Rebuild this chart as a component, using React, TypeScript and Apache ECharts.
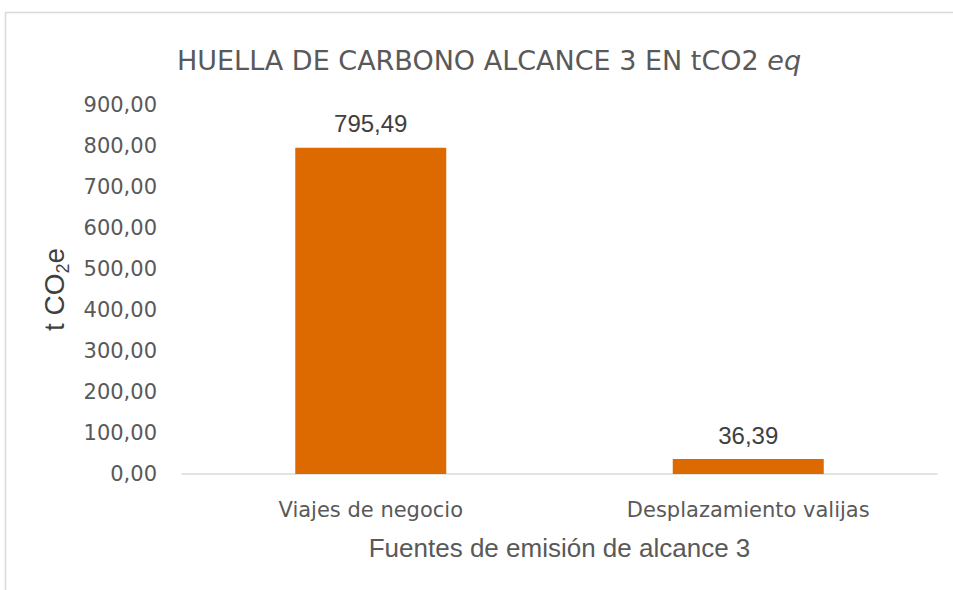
import React, { useEffect, useRef } from "react";
import * as echarts from "echarts";

const categories = ["Viajes de negocio", "Desplazamiento valijas"];
const values = [795.49, 36.39];
const yTicks = { min: 0, max: 900, interval: 100 };
const titleMain = "HUELLA DE CARBONO ALCANCE 3 EN tCO2 ";
const titleItalic = "eq";
const xAxisName = "Fuentes de emisión de alcance 3";

const fmt = (v: number) => v.toFixed(2).replace(".", ",");

export default function App() {
  const ref = useRef<HTMLDivElement>(null);
  useEffect(() => {
    if (!ref.current) return;
    const chart = echarts.init(ref.current, null, { renderer: "svg" });
    chart.setOption({
      animation: false,
      backgroundColor: "#ffffff",
      graphic: [
        {
          type: "rect",
          shape: { x: 5.5, y: 12.5, width: 960, height: 600 },
          style: { fill: "none", stroke: "#d9d9d9", lineWidth: 1.5 },
          silent: true,
        },
      ],
      title: {
        text: `{a|${titleMain}}{b|${titleItalic}}`,
        left: 484,
        top: 42,
        textAlign: "center",
        textStyle: {
          fontWeight: "normal",
          rich: {
            a: { fontFamily: "DejaVu Sans", fontSize: 27, fontWeight: "normal", color: "#595959" },
            b: { fontFamily: "DejaVu Sans", fontSize: 27, fontWeight: "normal", color: "#595959", fontStyle: "italic" },
          },
        },
      },
      grid: { left: 182, right: 16, top: 105, bottom: 116, containLabel: false },
      xAxis: {
        type: "category",
        data: categories,
        axisLine: { lineStyle: { color: "#d9d9d9", width: 1.5 } },
        axisTick: { show: false },
        axisLabel: {
          margin: 25,
          fontFamily: "DejaVu Sans",
          fontSize: 21,
          color: "#595959",
        },
        name: xAxisName,
        nameLocation: "middle",
        nameGap: 61,
        nameTextStyle: { fontFamily: "Liberation Sans", fontSize: 26, color: "#595959" },
      },
      yAxis: {
        type: "value",
        min: yTicks.min,
        max: yTicks.max,
        interval: yTicks.interval,
        splitLine: { show: false },
        axisLine: { show: false },
        axisTick: { show: false },
        axisLabel: {
          margin: 25,
          fontFamily: "DejaVu Sans",
          fontSize: 21,
          color: "#595959",
          formatter: (v: number) => fmt(v),
        },
        name: "{a|t CO}{s|2}{a|e}",
        nameLocation: "middle",
        nameRotate: 90,
        nameGap: 114,
        nameTextStyle: {
          rich: {
            a: { fontFamily: "Liberation Sans", fontSize: 28, color: "#404040", verticalAlign: "bottom", lineHeight: 32 },
            s: { fontFamily: "Liberation Sans", fontSize: 18, color: "#404040", verticalAlign: "bottom", lineHeight: 18, padding: [0, 0, -4, 0] },
          },
        },
      },
      series: [
        {
          type: "bar",
          data: values,
          barWidth: "40%",
          itemStyle: { color: "#dd6a00" },
          label: {
            show: true,
            position: "top",
            distance: 12,
            fontFamily: "Liberation Sans",
            fontSize: 24,
            color: "#404040",
            formatter: (p: any) => fmt(p.value),
          },
        },
      ],
    });
    return () => chart.dispose();
  }, []);
  return (
    <div
      ref={ref}
      style={{ position: "absolute", left: 0, top: 0, width: 953, height: 590 }}
    />
  );
}
